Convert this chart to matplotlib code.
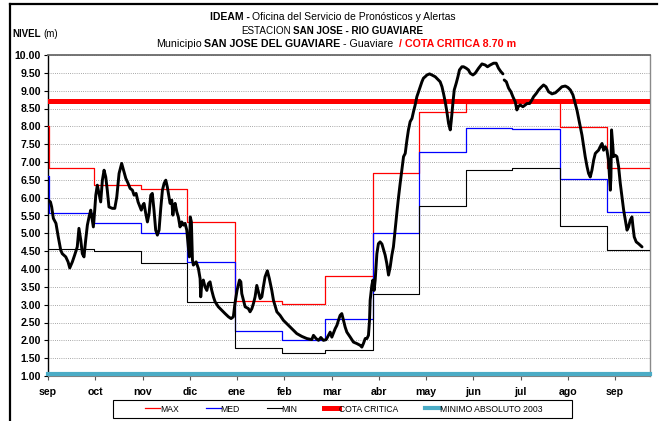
import numpy as np
import matplotlib
matplotlib.use("Agg")
import matplotlib.pyplot as plt
from matplotlib.lines import Line2D
from matplotlib.patches import Rectangle

# ---- data -----------------------------------------------------------------
month_labels = ["sep", "oct", "nov", "dic", "ene", "feb", "mar",
                "abr", "may", "jun", "jul", "ago", "sep"]

# day (counted from 1 September) where each monthly statistic starts
month_start_day = [0, 0.7, 30, 61, 91, 122, 153, 181, 212, 242, 273, 303, 334, 365, 393]

nivel_max = [8.00, 6.82, 6.36, 6.23, 5.32, 3.10, 3.02, 3.80, 6.70, 8.41, 8.65, 8.72, 7.97, 6.82, 6.82]
nivel_med = [6.60, 5.58, 5.28, 5.01, 4.20, 2.27, 2.01, 2.61, 5.01, 7.29, 7.96, 7.92, 6.52, 5.59, 5.59]
nivel_min = [4.55, 4.55, 4.50, 4.18, 3.07, 1.79, 1.65, 1.72, 3.29, 5.77, 6.77, 6.84, 5.20, 4.54, 4.54]

cota_critica = 8.70
minimo_absoluto_2003 = 1.06

# observed daily level (day from 1 September, metres); NaN marks missing data
obs_day = [
    0.2, 1.6, 2.4, 3.5, 5.2, 6.7, 8.3, 9.3, 11.6, 13.1, 14.2, 15.9, 17.4, 19.1,
    20.2, 21.4, 22.4, 23.5, 24.6, 25.7, 26.8, 27.9, 28.9, 29.6, 30.5, 31.2, 32.2,
    33.3, 34.4, 35.5, 36.6, 37.7, 38.7, 39.8, 42.0, 43.6, 44.9, 46.4, 48.1, 49.6,
    50.8, 52.3, 53.6, 55.1, 56.2, 57.5, 58.8, 60.1, 60.9, 61.9, 62.7, 63.8, 64.9,
    66.0, 67.1, 68.1, 69.2, 70.3, 71.4, 72.5, 73.6, 74.7, 75.8, 76.9, 77.9, 78.6,
    79.7, 80.8, 81.5, 82.3, 83.0, 84.1, 85.1, 86.2, 87.3, 88.4, 89.5, 90.6, 91.6,
    92.3, 92.9, 93.6, 94.3, 94.9, 96.7, 98.2, 99.3, 99.7, 100.4, 101.4, 102.5,
    103.7, 104.7, 105.8, 106.9, 108.0, 109.1, 111.2, 113.5, 115.6, 117.8, 119.5,
    121.0, 122.1, 123.4, 125.0, 125.9, 126.5, 127.6, 128.7, 130.8, 131.9, 133.1,
    134.1, 135.2, 136.3, 137.4, 138.5, 139.6, 140.6, 141.7, 143.2, 144.5, 146.1,
    147.2, 149.4, 151.5, 153.7, 157.0, 160.2, 162.4, 165.7, 169.0, 172.2, 173.3,
    175.0, 176.6, 178.1, 179.8, 181.6, 183.1, 184.2, 185.3, 187.5, 188.6, 189.6,
    190.7, 191.8, 192.9, 194.0, 195.1, 197.3, 199.4, 201.6, 203.8, 204.9, 205.9,
    207.1, 208.2, 209.2, 209.9, 210.3, 211.4, 212.1, 212.9, 213.6, 214.7, 215.7,
    216.8, 218.0, 219.0, 220.1, 221.2, 222.3, 223.4, 224.5, 225.5, 226.6, 227.8,
    228.8, 229.9, 231.0, 232.1, 233.2, 234.3, 235.3, 236.4, 237.6, 238.6, 239.7,
    240.8, 241.9, 243.0, 244.1, 245.1, 246.2, 247.4, 249.1, 250.6, 252.8, 254.9,
    256.0, 257.2, 258.2, 259.3, 260.4, 261.5, 262.6, 263.2, 264.3, 265.2, 266.5,
    267.6, 268.6, 270.2, 271.3, 273.0, 274.5, 275.6, 277.4, 278.9, 281.1, 283.3,
    285.4, 286.9, 288.7, 290.9, 292.6, 294.1, 295.7, 297.0, 297.4, 297.8, 299.2,
    300.7, 302.2, 303.5, 305.0, 306.1, 307.0, 308.3, 310.0, 311.6, 312.7, 314.4,
    315.9, 317.0, 318.7, 320.3, 321.8, 323.5, 325.1, 326.8, 329.0, 331.2, 333.3,
    335.5, 337.7, 339.4, 341.0, 342.7, 344.2, 345.3, 346.4, 347.5, 348.6, 349.6,
    350.7, 351.9, 352.9, 354.0, 355.1, 356.2, 357.3, 358.4, 359.4, 360.5, 361.7,
    362.7, 363.8, 364.9, 365.9, 366.6, 367.1, 367.5, 367.9, 368.6, 369.2, 370.3,
    371.4, 372.5, 373.6, 374.7, 375.8, 376.9, 378.0, 379.0, 380.1, 381.2, 381.9,
    382.7, 384.0, 385.5, 387.8,
]
obs_level = [
    5.93, 5.88, 5.74, 5.42, 5.28, 4.90, 4.53, 4.43, 4.34, 4.20, 4.03, 4.20, 4.39, 4.62,
    5.14, 4.81, 4.43, 4.34, 4.81, 5.23, 5.46, 5.65, 5.37, 5.18, 5.65, 6.07, 6.35,
    6.12, 5.88, 6.49, 6.77, 6.58, 6.21, 5.74, 5.70, 5.70, 6.02, 6.68, 6.96, 6.72,
    6.54, 6.40, 6.26, 6.21, 6.07, 6.12, 5.88, 5.74, 5.65, 5.79, 5.84, 5.56, 5.32,
    5.56, 6.07, 6.12, 5.65, 5.09, 4.95, 5.09, 5.70, 6.21, 6.40, 6.49, 6.30, 6.12,
    5.84, 5.93, 5.51, 5.74, 5.84, 5.60, 5.46, 5.18, 5.32, 5.23, 5.28, 5.09, 4.62,
    4.34, 5.46, 5.32, 4.25, 4.11, 4.20, 4.01, 3.73, 3.22, 3.59, 3.69, 3.50,
    3.40, 3.59, 3.64, 3.40, 3.22, 3.08, 2.94, 2.84, 2.75, 2.66, 2.61,
    2.66, 3.05, 3.40, 3.69, 3.64, 3.31, 3.12, 2.94, 2.89, 2.80, 2.89,
    3.03, 3.22, 3.54, 3.36, 3.17, 3.22, 3.50, 3.78, 3.95, 3.73, 3.40,
    3.12, 2.80, 2.70, 2.56, 2.42, 2.28, 2.19, 2.11, 2.05, 2.02, 2.14,
    2.05, 2.00, 2.08, 2.00, 2.02, 2.14, 2.23, 2.09, 2.33, 2.42, 2.56,
    2.70, 2.75, 2.56, 2.37, 2.23, 2.09, 1.95, 1.91, 1.86, 1.81, 1.91,
    2.05, 2.05, 2.14, 2.56, 3.12, 3.54, 3.69, 3.40, 3.69, 4.43, 4.71,
    4.76, 4.70, 4.55, 4.39, 4.15, 3.83, 4.06, 4.39, 4.62, 5.10, 5.60,
    6.00, 6.40, 6.77, 7.15, 7.24, 7.61, 7.90, 8.13, 8.22, 8.41, 8.60,
    8.83, 8.97, 9.11, 9.25, 9.35, 9.39, 9.44, 9.47, 9.44, 9.39, 9.30,
    9.25, 9.11, 8.92, 8.69, 8.41, 8.08, 7.90, 8.13, 8.64, 9.02, 9.21,
    9.39, 9.58, 9.67, 9.67, 9.63, 9.58, 9.49, 9.44, 9.49, 9.63, 9.75,
    9.72, 9.67, 9.72, 9.77, 9.77, 9.63, 9.53, 9.47, np.nan, 9.30, 9.25,
    9.07, 8.97, 8.83, 8.69, 8.46, 8.55, 8.60, 8.55, 8.60, 8.64, 8.64,
    8.74, 8.83, 8.92, 9.02, 9.09, 9.16, 9.11, 8.97, 8.91, 8.94, 9.02,
    9.11, 9.13, 9.09, 9.02, 8.88, 8.64, 8.46, 8.22, 7.99, 7.75, 7.47,
    7.15, 6.87, 6.68, 6.58, 6.77, 7.05, 7.24, 7.29, 7.33, 7.43, 7.52,
    7.33, 7.43, 7.33, 7.05, 6.58, 6.21, 6.58, 7.90, 7.52, 7.15, 7.19,
    7.15, 6.87, 6.40, 6.02, 5.65, 5.37, 5.09, 5.18, 5.37, 5.46, 5.18,
    4.90, 4.76, 4.71, 4.62,
]

# ---- figure ---------------------------------------------------------------
W, H, DPI = 662, 421, 100
NARROW = ["Liberation Sans Narrow", "Liberation Sans", "DejaVu Sans"]
SANS = ["Liberation Sans", "DejaVu Sans"]

fig = plt.figure(figsize=(W / DPI, H / DPI), dpi=DPI, facecolor="white")
ax = fig.add_axes([48 / W, 1 - 376 / H, 602 / W, 321 / H])

ax.set_xlim(0, 393)
ax.set_ylim(1.0, 10.0)

# monthly statistics as step lines
l_max, = ax.plot(month_start_day, nivel_max, drawstyle="steps-post",
                 color="#ff0000", lw=0.9, zorder=3, label="MAX")
l_med, = ax.plot(month_start_day, nivel_med, drawstyle="steps-post",
                 color="#0000ff", lw=0.9, zorder=3, label="MED")
l_min, = ax.plot(month_start_day, nivel_min, drawstyle="steps-post",
                 color="#000000", lw=0.8, zorder=3, label="MIN")
l_cota = ax.axhline(cota_critica, color="#ff0000", lw=3.6, zorder=4,
                    label="COTA CRITICA")
l_abs = ax.axhline(minimo_absoluto_2003, color="#4bacc6", lw=3.0, zorder=6,
                   clip_on=False, label="MINIMO ABSOLUTO 2003")

# observed level
ax.plot(obs_day, obs_level, color="black", lw=2.1, zorder=5,
        solid_joinstyle="round", solid_capstyle="round")

# axes styling
ax.set_yticks(np.arange(1.0, 10.01, 0.5))
ax.set_yticklabels([f"{v:.2f}" for v in np.arange(1.0, 10.01, 0.5)],
                   fontsize=7.6, fontweight="bold", family=SANS)
ax.set_xticks(np.arange(len(month_labels)) * 30.85)
ax.set_xticklabels(month_labels, fontsize=7.6, fontweight="bold", family=SANS)
ax.tick_params(axis="y", direction="out", length=3, width=0.8, pad=2, color="black")
ax.tick_params(axis="x", direction="out", length=3, width=0.8, pad=5, color="#555555")

ax.yaxis.grid(True, color="#8c8c8c", lw=0.6, linestyle=(0, (1, 1.6)), zorder=0)
ax.set_axisbelow(True)
ax.spines["left"].set_color("black")
ax.spines["left"].set_linewidth(1.0)
ax.spines["top"].set_color("#6a6a6a")
ax.spines["top"].set_linewidth(1.3)
ax.spines["right"].set_color("#8a8a8a")
ax.spines["right"].set_linewidth(1.0)
ax.spines["bottom"].set_color("#808080")

# outer frame lines
fig.add_artist(Line2D([10 / W, 10 / W], [0, 1 - 4 / H], color="black", lw=1.6))
fig.add_artist(Line2D([10 / W, 657 / W], [1 - 4 / H, 1 - 4 / H], color="black", lw=1.6))

# ---- titles with mixed weights ------------------------------------------
renderer = fig.canvas.get_renderer()


def rich_line(y_px, parts, size, cx_px, gap_em=0.25):
    """Draw a centred line composed of (text, weight, colour) pieces."""
    items = []
    for txt, weight, col in parts:
        t = fig.text(0, 1 - y_px / H, txt, fontsize=size, fontweight=weight,
                     color=col, family=NARROW, ha="left", va="baseline")
        items.append(t)
    gap = size * DPI / 72 * gap_em
    widths = [t.get_window_extent(renderer).width for t in items]
    total = sum(widths) + gap * (len(items) - 1)
    x = cx_px - total / 2
    for t, w in zip(items, widths):
        t.set_x(x / W)
        x += w + gap


rich_line(20, [("IDEAM -", "bold", "black"),
               ("Oficina del Servicio de Pronósticos y Alertas", "normal", "black")],
          7.45, 333)
rich_line(33.5, [("ESTACION", "normal", "black"),
                 ("SAN JOSE - RIO GUAVIARE", "bold", "black")],
          7.1, 332, gap_em=0.15)
rich_line(47, [("Municipio", "normal", "black"),
               ("SAN JOSE DEL GUAVIARE", "bold", "black"),
               ("- Guaviare", "normal", "black"),
               (" / COTA CRITICA 8.70 m", "bold", "#ff0000")],
          7.65, 336)

# y-axis caption
t1 = fig.text(12 / W, 1 - 37 / H, "NIVEL", fontsize=7, fontweight="bold",
              family=NARROW, ha="left", va="baseline")
w1 = t1.get_window_extent(renderer).width
fig.text((12 + w1 + 2.5) / W, 1 - 37 / H, "(m)", fontsize=7, family=NARROW,
         ha="left", va="baseline")

# ---- legend -----------------------------------------------------------------
fig.add_artist(Rectangle((113 / W, 1 - 418 / H), 459 / W, 18 / H,
                         transform=fig.transFigure, facecolor="white",
                         edgecolor="black", lw=0.8))
leg = fig.legend(handles=[l_max, l_med, l_min, l_cota, l_abs],
                 loc="center", ncol=5,
                 bbox_to_anchor=(344 / W, 1 - 409 / H),
                 borderaxespad=0, handlelength=1.75,
                 handletextpad=0.0, columnspacing=3.1, frameon=False,
                 prop={"family": SANS, "size": 6.2})

fig.savefig("out.png", dpi=DPI, facecolor="white")
